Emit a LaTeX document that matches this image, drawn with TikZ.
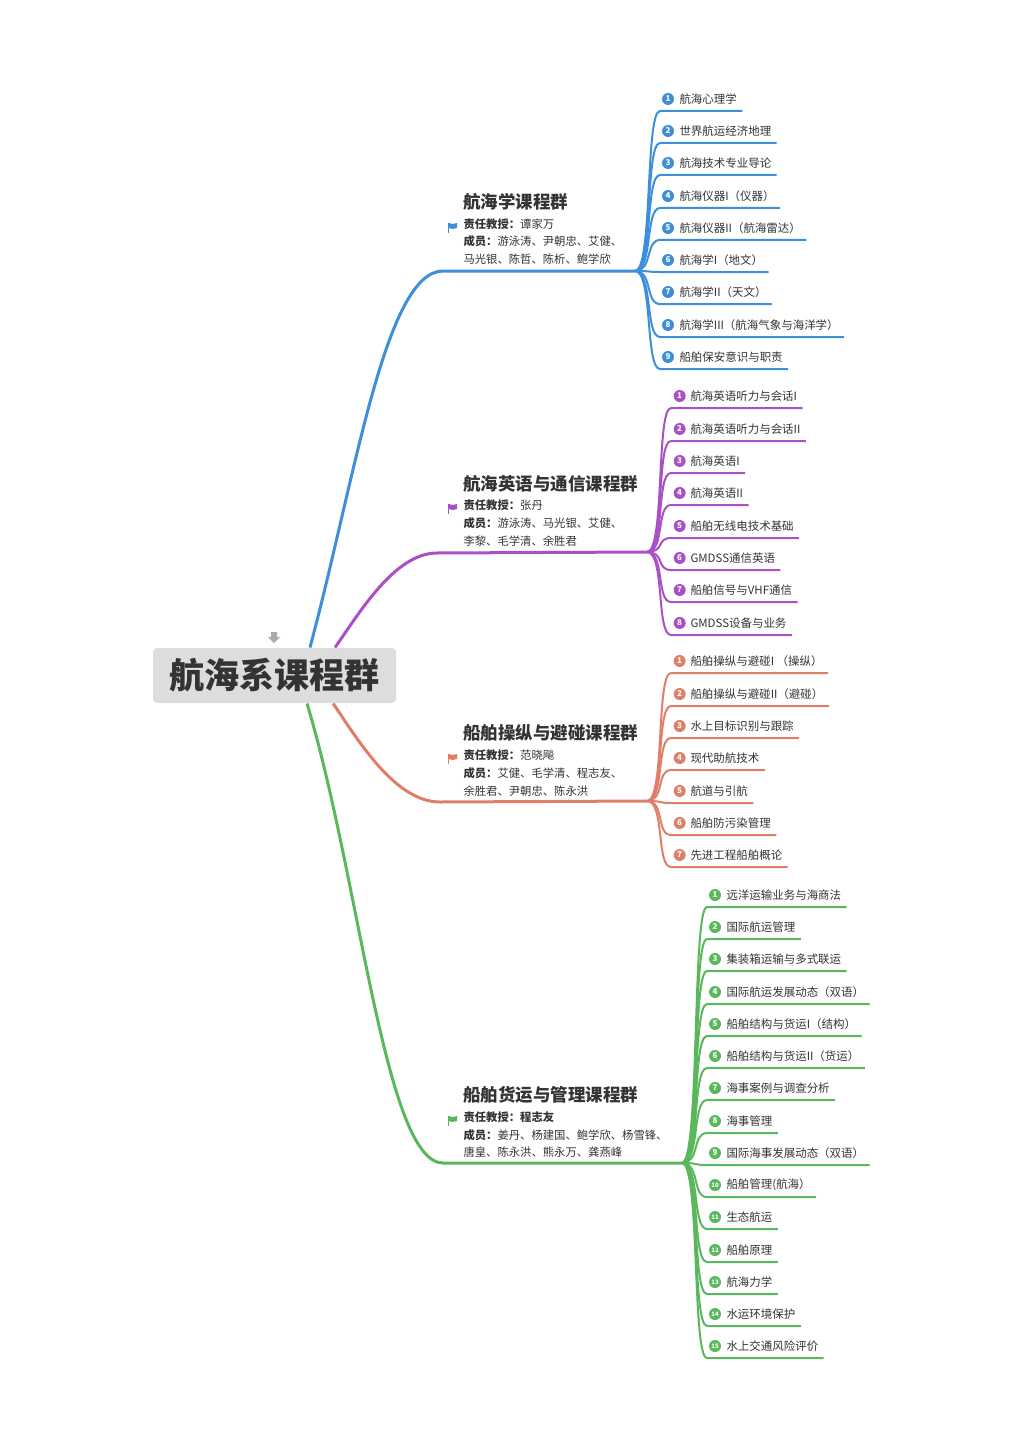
\documentclass[tikz,border=0pt]{standalone}
\usepackage{fontspec}
\setmainfont{Noto Sans CJK SC}

\definecolor{navblue}{RGB}{61,143,217}
\definecolor{engpurple}{RGB}{171,79,198}
\definecolor{shipsalmon}{RGB}{223,127,106}
\definecolor{cargogreen}{RGB}{91,183,91}
\definecolor{hubgray}{RGB}{221,221,221}
\definecolor{inkgray}{RGB}{51,51,51}
\definecolor{arrowgray}{RGB}{170,170,170}

\tikzset{every picture/.style={line width=0.75pt}}
\tikzset{
  hub/.style={fill=hubgray, rounded corners=3pt, minimum width=182.25pt, minimum height=41.25pt, inner sep=0pt, text=inkgray, font=\fontsize{26.3}{30}\selectfont\bfseries},
  grouptitle/.style={anchor=west, inner sep=0pt, text=inkgray, font=\fontsize{13.1}{15}\selectfont\bfseries},
  member/.style={anchor=west, inner sep=0pt, text=inkgray, font=\fontsize{8.5}{10}\selectfont},
  leaf/.style={anchor=south west, inner sep=0pt, minimum height=17.25pt, text=inkgray, font=\fontsize{8.6}{10}\selectfont, execute at begin node={\hspace*{14.25pt}}, execute at end node={\hspace*{3.75pt}}},
  badge/.style={circle, inner sep=0pt, minimum size=9pt, text=white, font=\fontsize{6}{6}\selectfont\bfseries},
  badgewide/.style={badge, font=\fontsize{4.6}{4.6}\selectfont\bfseries},
  trunk/.style={line width=2.25pt},
  twig/.style={line width=1.5pt},
}

\begin{document}
\begin{tikzpicture}[x=0.75pt,y=0.75pt,yscale=-1,xscale=1]
\useasboundingbox (0,0) rectangle (1024,1448);

% Central topic
\node[hub] (hub) at (274.5,675.5) {航海系课程群};
\fill[arrowgray] (271,632) -- (277,632) -- (277,637) -- (280,637) -- (274,643) -- (268,637) -- (271,637) -- cycle;

%Group nodes
\node[grouptitle] (navtitle) at (463,202) {航海学课程群};
\node[member] (navlead) at (463,224) {\textbf{责任教授：}谭家万};
\node[member] (navmem) at (463,241) {\textbf{成员：}游泳涛、尹朝忠、艾健、};
\node[member] (navmem2) at (463,259) {马光银、陈哲、陈析、鲍学欣};
\fill[navblue] (447.5,223) rectangle (449,233);
\fill[navblue] (449,223) -- (452.5,224) -- (457,223) -- (457,228) -- (452.5,229) -- (449,228) -- cycle;

\node[grouptitle] (engtitle) at (463,484) {航海英语与通信课程群};
\node[member] (englead) at (463,505) {\textbf{责任教授：}张丹};
\node[member] (engmem) at (463,523) {\textbf{成员：}游泳涛、马光银、艾健、};
\node[member] (engmem2) at (463,541) {李黎、毛学清、余胜君};
\fill[engpurple] (447.5,504) rectangle (449,514);
\fill[engpurple] (449,504) -- (452.5,505) -- (457,504) -- (457,509) -- (452.5,510) -- (449,509) -- cycle;

\node[grouptitle] (mantitle) at (463,733) {船舶操纵与避碰课程群};
\node[member] (manlead) at (463,755) {\textbf{责任教授：}范晓飚};
\node[member] (manmem) at (463,773) {\textbf{成员：}艾健、毛学清、程志友、};
\node[member] (manmem2) at (463,791) {余胜君、尹朝忠、陈永洪};
\fill[shipsalmon] (447.5,754) rectangle (449,764);
\fill[shipsalmon] (449,754) -- (452.5,755) -- (457,754) -- (457,759) -- (452.5,760) -- (449,759) -- cycle;

\node[grouptitle] (cartitle) at (463,1095) {船舶货运与管理课程群};
\node[member] (carlead) at (463,1117) {\textbf{责任教授：程志友}};
\node[member] (carmem) at (463,1135) {\textbf{成员：}姜丹、杨建国、鲍学欣、杨雪锋、};
\node[member] (carmem2) at (463,1152) {唐皇、陈永洪、熊永万、龚燕峰};
\fill[cargogreen] (447.5,1116) rectangle (449,1126);
\fill[cargogreen] (449,1116) -- (452.5,1117) -- (457,1116) -- (457,1121) -- (452.5,1122) -- (449,1121) -- cycle;

%Main branches
\coordinate (navfan) at (635,271);
\coordinate (engfan) at (647,552);
\coordinate (manfan) at (647,801);
\coordinate (carfan) at (682,1163);
\draw[trunk, navblue] ([xshift=26.6pt]hub.north) .. controls (355,480) and (385,271) .. (443,271) -- (navfan);
\draw[trunk, engpurple] ([xshift=45.4pt]hub.north) .. controls (360,612) and (395,553) .. (437,553) -- (engfan);
\draw[trunk, shipsalmon] ([xshift=44pt]hub.south) .. controls (358,740) and (395,802) .. (440,802) -- (manfan);
\draw[trunk, cargogreen] ([xshift=24.4pt]hub.south) .. controls (360,880) and (385,1163) .. (443,1163) -- (carfan);

%Leaves of 航海学课程群
\node[leaf] (nav1) at (660,111) {航海心理学};
\node[leaf] (nav2) at (660,143) {世界航运经济地理};
\node[leaf] (nav3) at (660,175) {航海技术专业导论};
\node[leaf] (nav4) at (660,208) {航海仪器I（仪器）};
\node[leaf] (nav5) at (660,240) {航海仪器II（航海雷达）};
\node[leaf] (nav6) at (660,272) {航海学I（地文）};
\node[leaf] (nav7) at (660,304) {航海学II（天文）};
\node[leaf] (nav8) at (660,337) {航海学III（航海气象与海洋学）};
\node[leaf] (nav9) at (660,369) {船舶保安意识与职责};
\node[badge, fill=navblue] (nav1n) at ([xshift=6pt]nav1.west) {1};
\node[badge, fill=navblue] (nav2n) at ([xshift=6pt]nav2.west) {2};
\node[badge, fill=navblue] (nav3n) at ([xshift=6pt]nav3.west) {3};
\node[badge, fill=navblue] (nav4n) at ([xshift=6pt]nav4.west) {4};
\node[badge, fill=navblue] (nav5n) at ([xshift=6pt]nav5.west) {5};
\node[badge, fill=navblue] (nav6n) at ([xshift=6pt]nav6.west) {6};
\node[badge, fill=navblue] (nav7n) at ([xshift=6pt]nav7.west) {7};
\node[badge, fill=navblue] (nav8n) at ([xshift=6pt]nav8.west) {8};
\node[badge, fill=navblue] (nav9n) at ([xshift=6pt]nav9.west) {9};
\draw[twig, navblue] (navfan) .. controls +(18,0) and +(-15,0) .. (nav1.south west) -- (nav1.south east);
\draw[twig, navblue] (navfan) .. controls +(18,0) and +(-15,0) .. (nav2.south west) -- (nav2.south east);
\draw[twig, navblue] (navfan) .. controls +(18,0) and +(-15,0) .. (nav3.south west) -- (nav3.south east);
\draw[twig, navblue] (navfan) .. controls +(18,0) and +(-15,0) .. (nav4.south west) -- (nav4.south east);
\draw[twig, navblue] (navfan) .. controls +(18,0) and +(-15,0) .. (nav5.south west) -- (nav5.south east);
\draw[twig, navblue] (navfan) .. controls +(18,0) and +(-15,0) .. (nav6.south west) -- (nav6.south east);
\draw[twig, navblue] (navfan) .. controls +(18,0) and +(-15,0) .. (nav7.south west) -- (nav7.south east);
\draw[twig, navblue] (navfan) .. controls +(18,0) and +(-15,0) .. (nav8.south west) -- (nav8.south east);
\draw[twig, navblue] (navfan) .. controls +(18,0) and +(-15,0) .. (nav9.south west) -- (nav9.south east);

%Leaves of 航海英语与通信课程群
\node[leaf] (eng1) at (671,408) {航海英语听力与会话I};
\node[leaf] (eng2) at (671,441) {航海英语听力与会话II};
\node[leaf] (eng3) at (671,473) {航海英语I};
\node[leaf] (eng4) at (671,505) {航海英语II};
\node[leaf] (eng5) at (671,538) {船舶无线电技术基础};
\node[leaf] (eng6) at (671,570) {GMDSS通信英语};
\node[leaf] (eng7) at (671,602) {船舶信号与VHF通信};
\node[leaf] (eng8) at (671,635) {GMDSS设备与业务};
\node[badge, fill=engpurple] (eng1n) at ([xshift=6.5pt]eng1.west) {1};
\node[badge, fill=engpurple] (eng2n) at ([xshift=6.5pt]eng2.west) {2};
\node[badge, fill=engpurple] (eng3n) at ([xshift=6.5pt]eng3.west) {3};
\node[badge, fill=engpurple] (eng4n) at ([xshift=6.5pt]eng4.west) {4};
\node[badge, fill=engpurple] (eng5n) at ([xshift=6.5pt]eng5.west) {5};
\node[badge, fill=engpurple] (eng6n) at ([xshift=6.5pt]eng6.west) {6};
\node[badge, fill=engpurple] (eng7n) at ([xshift=6.5pt]eng7.west) {7};
\node[badge, fill=engpurple] (eng8n) at ([xshift=6.5pt]eng8.west) {8};
\draw[twig, engpurple] (engfan) .. controls +(18,0) and +(-15,0) .. (eng1.south west) -- (eng1.south east);
\draw[twig, engpurple] (engfan) .. controls +(18,0) and +(-15,0) .. (eng2.south west) -- (eng2.south east);
\draw[twig, engpurple] (engfan) .. controls +(18,0) and +(-15,0) .. (eng3.south west) -- (eng3.south east);
\draw[twig, engpurple] (engfan) .. controls +(18,0) and +(-15,0) .. (eng4.south west) -- (eng4.south east);
\draw[twig, engpurple] (engfan) .. controls +(18,0) and +(-15,0) .. (eng5.south west) -- (eng5.south east);
\draw[twig, engpurple] (engfan) .. controls +(18,0) and +(-15,0) .. (eng6.south west) -- (eng6.south east);
\draw[twig, engpurple] (engfan) .. controls +(18,0) and +(-15,0) .. (eng7.south west) -- (eng7.south east);
\draw[twig, engpurple] (engfan) .. controls +(18,0) and +(-15,0) .. (eng8.south west) -- (eng8.south east);

%Leaves of 船舶操纵与避碰课程群
\node[leaf] (man1) at (671,673) {船舶操纵与避碰I （操纵）};
\node[leaf] (man2) at (671,706) {船舶操纵与避碰II（避碰）};
\node[leaf] (man3) at (671,738) {水上目标识别与跟踪};
\node[leaf] (man4) at (671,770) {现代助航技术};
\node[leaf] (man5) at (671,803) {航道与引航};
\node[leaf] (man6) at (671,835) {船舶防污染管理};
\node[leaf] (man7) at (671,867) {先进工程船舶概论};
\node[badge, fill=shipsalmon] (man1n) at ([xshift=6.5pt]man1.west) {1};
\node[badge, fill=shipsalmon] (man2n) at ([xshift=6.5pt]man2.west) {2};
\node[badge, fill=shipsalmon] (man3n) at ([xshift=6.5pt]man3.west) {3};
\node[badge, fill=shipsalmon] (man4n) at ([xshift=6.5pt]man4.west) {4};
\node[badge, fill=shipsalmon] (man5n) at ([xshift=6.5pt]man5.west) {5};
\node[badge, fill=shipsalmon] (man6n) at ([xshift=6.5pt]man6.west) {6};
\node[badge, fill=shipsalmon] (man7n) at ([xshift=6.5pt]man7.west) {7};
\draw[twig, shipsalmon] (manfan) .. controls +(18,0) and +(-15,0) .. (man1.south west) -- (man1.south east);
\draw[twig, shipsalmon] (manfan) .. controls +(18,0) and +(-15,0) .. (man2.south west) -- (man2.south east);
\draw[twig, shipsalmon] (manfan) .. controls +(18,0) and +(-15,0) .. (man3.south west) -- (man3.south east);
\draw[twig, shipsalmon] (manfan) .. controls +(18,0) and +(-15,0) .. (man4.south west) -- (man4.south east);
\draw[twig, shipsalmon] (manfan) .. controls +(18,0) and +(-15,0) .. (man5.south west) -- (man5.south east);
\draw[twig, shipsalmon] (manfan) .. controls +(18,0) and +(-15,0) .. (man6.south west) -- (man6.south east);
\draw[twig, shipsalmon] (manfan) .. controls +(18,0) and +(-15,0) .. (man7.south west) -- (man7.south east);

%Leaves of 船舶货运与管理课程群
\node[leaf] (car1) at (707,907) {远洋运输业务与海商法};
\node[leaf] (car2) at (707,939) {国际航运管理};
\node[leaf] (car3) at (707,971) {集装箱运输与多式联运};
\node[leaf] (car4) at (707,1004) {国际航运发展动态（双语）};
\node[leaf] (car5) at (707,1036) {船舶结构与货运I（结构）};
\node[leaf] (car6) at (707,1068) {船舶结构与货运II（货运）};
\node[leaf] (car7) at (707,1100) {海事案例与调查分析};
\node[leaf] (car8) at (707,1133) {海事管理};
\node[leaf] (car9) at (707,1165) {国际海事发展动态（双语）};
\node[leaf] (car10) at (707,1197) {船舶管理(航海）};
\node[leaf] (car11) at (707,1229) {生态航运};
\node[leaf] (car12) at (707,1262) {船舶原理};
\node[leaf] (car13) at (707,1294) {航海力学};
\node[leaf] (car14) at (707,1326) {水运环境保护};
\node[leaf] (car15) at (707,1358) {水上交通风险评价};
\node[badge, fill=cargogreen] (car1n) at ([xshift=6pt]car1.west) {1};
\node[badge, fill=cargogreen] (car2n) at ([xshift=6pt]car2.west) {2};
\node[badge, fill=cargogreen] (car3n) at ([xshift=6pt]car3.west) {3};
\node[badge, fill=cargogreen] (car4n) at ([xshift=6pt]car4.west) {4};
\node[badge, fill=cargogreen] (car5n) at ([xshift=6pt]car5.west) {5};
\node[badge, fill=cargogreen] (car6n) at ([xshift=6pt]car6.west) {6};
\node[badge, fill=cargogreen] (car7n) at ([xshift=6pt]car7.west) {7};
\node[badge, fill=cargogreen] (car8n) at ([xshift=6pt]car8.west) {8};
\node[badge, fill=cargogreen] (car9n) at ([xshift=6pt]car9.west) {9};
\node[badgewide, fill=cargogreen] (car10n) at ([xshift=6pt]car10.west) {10};
\node[badgewide, fill=cargogreen] (car11n) at ([xshift=6pt]car11.west) {11};
\node[badgewide, fill=cargogreen] (car12n) at ([xshift=6pt]car12.west) {12};
\node[badgewide, fill=cargogreen] (car13n) at ([xshift=6pt]car13.west) {13};
\node[badgewide, fill=cargogreen] (car14n) at ([xshift=6pt]car14.west) {14};
\node[badgewide, fill=cargogreen] (car15n) at ([xshift=6pt]car15.west) {15};
\draw[twig, cargogreen] (carfan) .. controls +(18,0) and +(-15,0) .. (car1.south west) -- (car1.south east);
\draw[twig, cargogreen] (carfan) .. controls +(18,0) and +(-15,0) .. (car2.south west) -- (car2.south east);
\draw[twig, cargogreen] (carfan) .. controls +(18,0) and +(-15,0) .. (car3.south west) -- (car3.south east);
\draw[twig, cargogreen] (carfan) .. controls +(18,0) and +(-15,0) .. (car4.south west) -- (car4.south east);
\draw[twig, cargogreen] (carfan) .. controls +(18,0) and +(-15,0) .. (car5.south west) -- (car5.south east);
\draw[twig, cargogreen] (carfan) .. controls +(18,0) and +(-15,0) .. (car6.south west) -- (car6.south east);
\draw[twig, cargogreen] (carfan) .. controls +(18,0) and +(-15,0) .. (car7.south west) -- (car7.south east);
\draw[twig, cargogreen] (carfan) .. controls +(18,0) and +(-15,0) .. (car8.south west) -- (car8.south east);
\draw[twig, cargogreen] (carfan) .. controls +(18,0) and +(-15,0) .. (car9.south west) -- (car9.south east);
\draw[twig, cargogreen] (carfan) .. controls +(18,0) and +(-15,0) .. (car10.south west) -- (car10.south east);
\draw[twig, cargogreen] (carfan) .. controls +(18,0) and +(-15,0) .. (car11.south west) -- (car11.south east);
\draw[twig, cargogreen] (carfan) .. controls +(18,0) and +(-15,0) .. (car12.south west) -- (car12.south east);
\draw[twig, cargogreen] (carfan) .. controls +(18,0) and +(-15,0) .. (car13.south west) -- (car13.south east);
\draw[twig, cargogreen] (carfan) .. controls +(18,0) and +(-15,0) .. (car14.south west) -- (car14.south east);
\draw[twig, cargogreen] (carfan) .. controls +(18,0) and +(-15,0) .. (car15.south west) -- (car15.south east);

\end{tikzpicture}
\end{document}
